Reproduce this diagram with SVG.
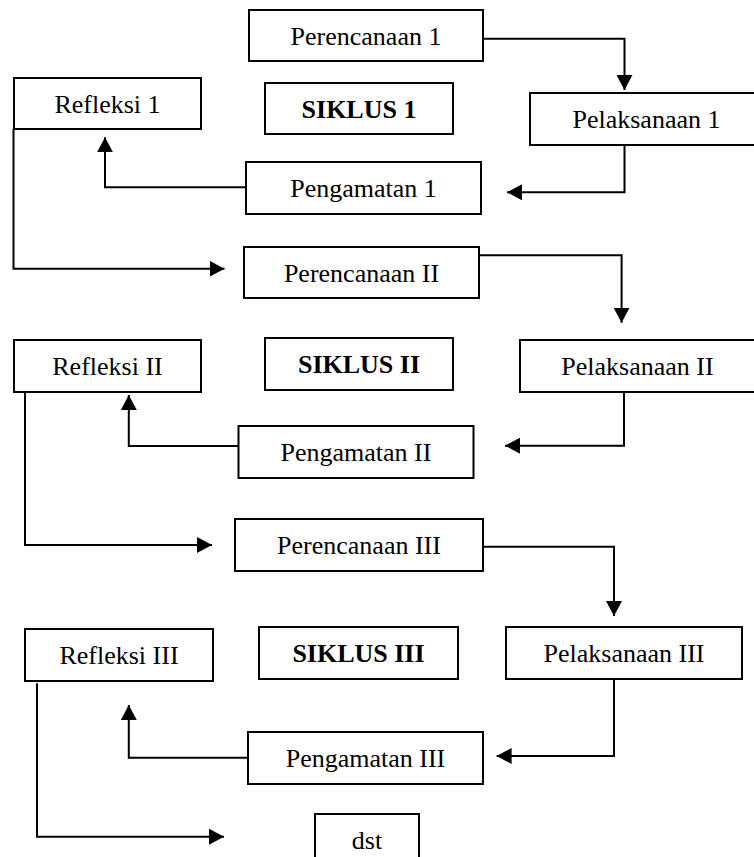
<svg xmlns="http://www.w3.org/2000/svg" width="754" height="857" viewBox="0 0 754 857">
<style>
.box{fill:#fff;stroke:#000;stroke-width:2}
.t{font-family:"Liberation Serif","Times New Roman",serif;font-size:26px;text-anchor:middle;fill:#000}
.b{font-weight:bold}
.c{fill:none;stroke:#000;stroke-width:2}
</style>
<defs>
<marker id="ah" viewBox="0 0 15 16" refX="15" refY="8" markerWidth="15" markerHeight="16" markerUnits="userSpaceOnUse" orient="auto">
<path d="M0,0 L15,8 L0,16 z" fill="#000"/>
</marker>
</defs>
<rect width="754" height="857" fill="#fff"/>
<g id="connectors">
<path class="c" marker-end="url(#ah)" d="M483,38.7 H624.5 V90"/>
<path class="c" marker-end="url(#ah)" d="M624.5,145 V192.3 H507"/>
<path class="c" marker-end="url(#ah)" d="M246,187.3 H105 V137.3"/>
<path class="c" marker-end="url(#ah)" d="M13.5,129 V268.7 H224.5"/>
<path class="c" marker-end="url(#ah)" d="M479,255.3 H621.6 V322.7"/>
<path class="c" marker-end="url(#ah)" d="M624,392 V445.7 H505"/>
<path class="c" marker-end="url(#ah)" d="M238.5,446 H128.8 V395"/>
<path class="c" marker-end="url(#ah)" d="M25,392 V545 H212"/>
<path class="c" marker-end="url(#ah)" d="M483,546.7 H614 V616"/>
<path class="c" marker-end="url(#ah)" d="M614,679.3 V756 H496.6"/>
<path class="c" marker-end="url(#ah)" d="M248,757.7 H128.8 V705"/>
<path class="c" marker-end="url(#ah)" d="M37,683.3 V836.7 H224"/>
</g>
<g id="perencanaan1"><rect class="box" x="249" y="10" width="234" height="51"/><text class="t" x="366" y="44.5">Perencanaan 1</text></g>
<g id="refleksi1"><rect class="box" x="14" y="78" width="187" height="51"/><text class="t" x="107.5" y="112.5">Refleksi 1</text></g>
<g id="siklus1"><rect class="box" x="265" y="83" width="188" height="51"/><text class="t b" x="359" y="117.5">SIKLUS 1</text></g>
<g id="pelaksanaan1"><rect class="box" x="530" y="93" width="233" height="52"/><text class="t" x="646.5" y="128">Pelaksanaan 1</text></g>
<g id="pengamatan1"><rect class="box" x="246" y="162" width="235" height="52"/><text class="t" x="363.5" y="197">Pengamatan 1</text></g>
<g id="perencanaan2"><rect class="box" x="244" y="247" width="235" height="51"/><text class="t" x="361.5" y="281.5">Perencanaan II</text></g>
<g id="refleksi2"><rect class="box" x="14" y="340" width="187" height="52"/><text class="t" x="107.5" y="375">Refleksi II</text></g>
<g id="siklus2"><rect class="box" x="265" y="338" width="188" height="52"/><text class="t b" x="359" y="373">SIKLUS II</text></g>
<g id="pelaksanaan2"><rect class="box" x="520" y="340" width="236" height="52"/><text class="t" x="637.5" y="375">Pelaksanaan II</text></g>
<g id="pengamatan2"><rect class="box" x="238.5" y="426" width="235" height="52"/><text class="t" x="356" y="461">Pengamatan II</text></g>
<g id="perencanaan3"><rect class="box" x="235" y="519" width="248" height="52"/><text class="t" x="359" y="554">Perencanaan III</text></g>
<g id="refleksi3"><rect class="box" x="25" y="629" width="188" height="52"/><text class="t" x="119" y="664">Refleksi III</text></g>
<g id="siklus3"><rect class="box" x="259" y="627" width="199" height="52"/><text class="t b" x="358.5" y="662">SIKLUS III</text></g>
<g id="pelaksanaan3"><rect class="box" x="506" y="627" width="236" height="52"/><text class="t" x="624" y="662">Pelaksanaan III</text></g>
<g id="pengamatan3"><rect class="box" x="248" y="732" width="235" height="52"/><text class="t" x="365.5" y="767">Pengamatan III</text></g>
<g id="dst"><rect class="box" x="315" y="814" width="104" height="52"/><text class="t" x="367" y="848.5">dst</text></g>
</svg>
